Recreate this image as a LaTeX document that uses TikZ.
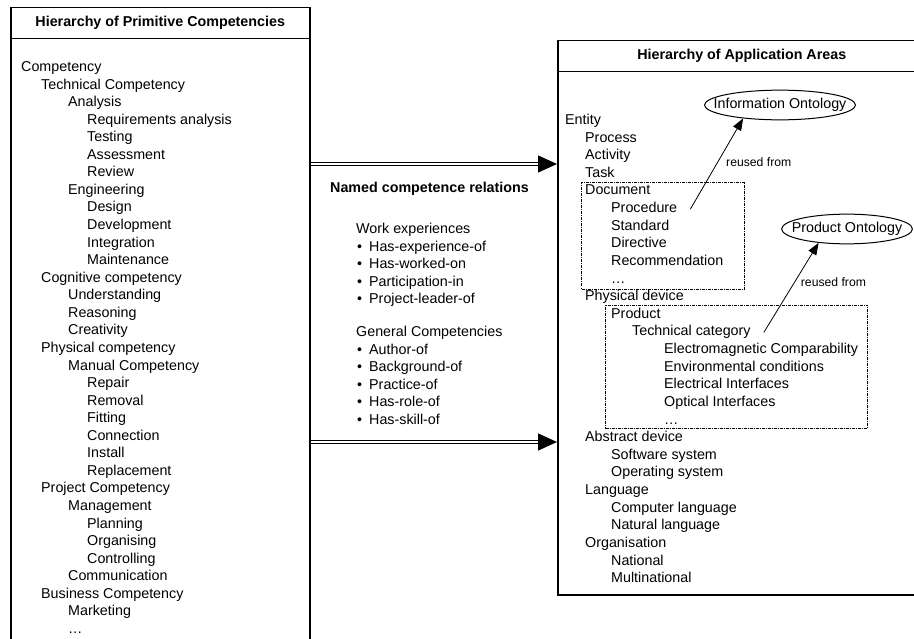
\documentclass[tikz,border=0pt]{standalone}
\usepackage{fontspec}
\setmainfont{Liberation Sans}
\usetikzlibrary{shapes.geometric, arrows.meta, positioning}

\newcommand{\relitem}[1]{\makebox[12pt][l]{\textbullet}#1}

\begin{document}
\begin{tikzpicture}[
    x=1pt, y=-1pt,
    font=\fontsize{14.3}{17}\selectfont,
    box/.style={draw, line width=1.5pt, anchor=north west, inner sep=0pt},
    head/.style={box, minimum height=31pt, font=\fontsize{14.3}{17}\selectfont\bfseries},
    item/.style={anchor=west, inner sep=0pt, text height=10pt, text depth=3pt},
    grp/.style={draw, line width=1pt, dash pattern=on 3pt off 1pt on 1pt off 1pt, anchor=north west, inner sep=0pt},
    onto/.style={ellipse, draw, line width=1pt, inner ysep=4pt, text height=10pt, text depth=3pt},
    rel/.style={draw, double, line width=1.3pt, double distance=1.3pt, -{Triangle[length=19pt, width=17pt]}},
    reuse/.style={draw, line width=0.8pt, -{Triangle[length=12pt, width=9pt]}},
    note/.style={font=\fontsize{12.2}{14}\selectfont, anchor=west, inner sep=0pt}
]
    \useasboundingbox (0,0) rectangle (914,639);
    \clip (0,0) rectangle (914,639);

    % primitive competencies
    \node [box, minimum width=299pt, minimum height=660pt] (prim) at (10,7) {};
    \node [head, minimum width=299pt] (primhead) at (10,7) {Hierarchy of Primitive Competencies};
    \foreach \x/\t [count=\i from 0] in {21/Competency, 41/Technical Competency,
        68/Analysis, 87/Requirements analysis, 87/Testing, 87/Assessment, 87/Review,
        68/Engineering, 87/Design, 87/Development, 87/Integration, 87/Maintenance,
        41/Cognitive competency, 68/Understanding, 68/Reasoning, 68/Creativity,
        41/Physical competency, 68/Manual Competency, 87/Repair, 87/Removal,
        87/Fitting, 87/Connection, 87/Install, 87/Replacement,
        41/Project Competency, 68/Management, 87/Planning, 87/Organising,
        87/Controlling, 68/Communication, 41/Business Competency, 68/Marketing,
        68/\dots}
        \node [item] (p\i) at (\x, 68+17.56*\i) {\t};

    % application areas
    \node [box, minimum width=368pt, minimum height=554pt] (appl) at (557,40) {};
    \node [head, minimum width=368pt] (applhead) at (557,40) {Hierarchy of Application Areas};
    \foreach \x/\t [count=\i from 0] in {565/Entity, 585/Process, 585/Activity,
        585/Task, 585/Document, 611/Procedure, 611/Standard, 611/Directive,
        611/Recommendation, 611/\dots, 585/Physical device, 611/Product,
        632/Technical category, 664/Electromagnetic Comparability,
        664/Environmental conditions, 664/Electrical Interfaces,
        664/Optical Interfaces, 664/\dots, 585/Abstract device,
        611/Software system, 611/Operating system, 585/Language,
        611/Computer language, 611/Natural language, 585/Organisation,
        611/National, 611/Multinational}
        \node [item] (a\i) at (\x, 121+17.62*\i) {\t};

    \node [grp, minimum width=163pt, minimum height=107pt] (docgrp) at (581,182) {};
    \node [grp, minimum width=262pt, minimum height=123pt] (prodgrp) at (605,305) {};

    % reused ontologies
    \node [onto, inner xsep=-13pt] (info) at (780,105) {Information Ontology};
    \node [onto, inner xsep=-9pt] (prod) at (847,229) {Product Ontology};
    \draw [reuse] ([xshift=13pt]a5.east) -- node [note, pos=0.52, xshift=8pt] {reused from} (info.200);
    \draw [reuse] ([xshift=13pt]a12.east) -- node [note, pos=0.56, xshift=6pt] {reused from} (prod.206);

    % named relations
    \node [item, font=\fontsize{14.3}{17}\selectfont\bfseries] (relhead) at (330,189) {Named competence relations};
    \node [item] (work) at (356,230) {Work experiences};
    \foreach \t [count=\i] in {Has-experience-of, Has-worked-on, Participation-in, Project-leader-of}
        \node [item] (w\i) at (357, 230+17.6*\i) {\relitem{\t}};
    \node [item] (gen) at (356,333) {General Competencies};
    \foreach \t [count=\i] in {Author-of, Background-of, Practice-of, Has-role-of, Has-skill-of}
        \node [item] (g\i) at (357, 333+17.6*\i) {\relitem{\t}};

    \draw [rel] ([yshift=-157pt]prim.north east) -- ([yshift=-157pt]prim.north east -| appl.west);
    \draw [rel] ([yshift=-435pt]prim.north east) -- ([yshift=-435pt]prim.north east -| appl.west);
\end{tikzpicture}
\end{document}
